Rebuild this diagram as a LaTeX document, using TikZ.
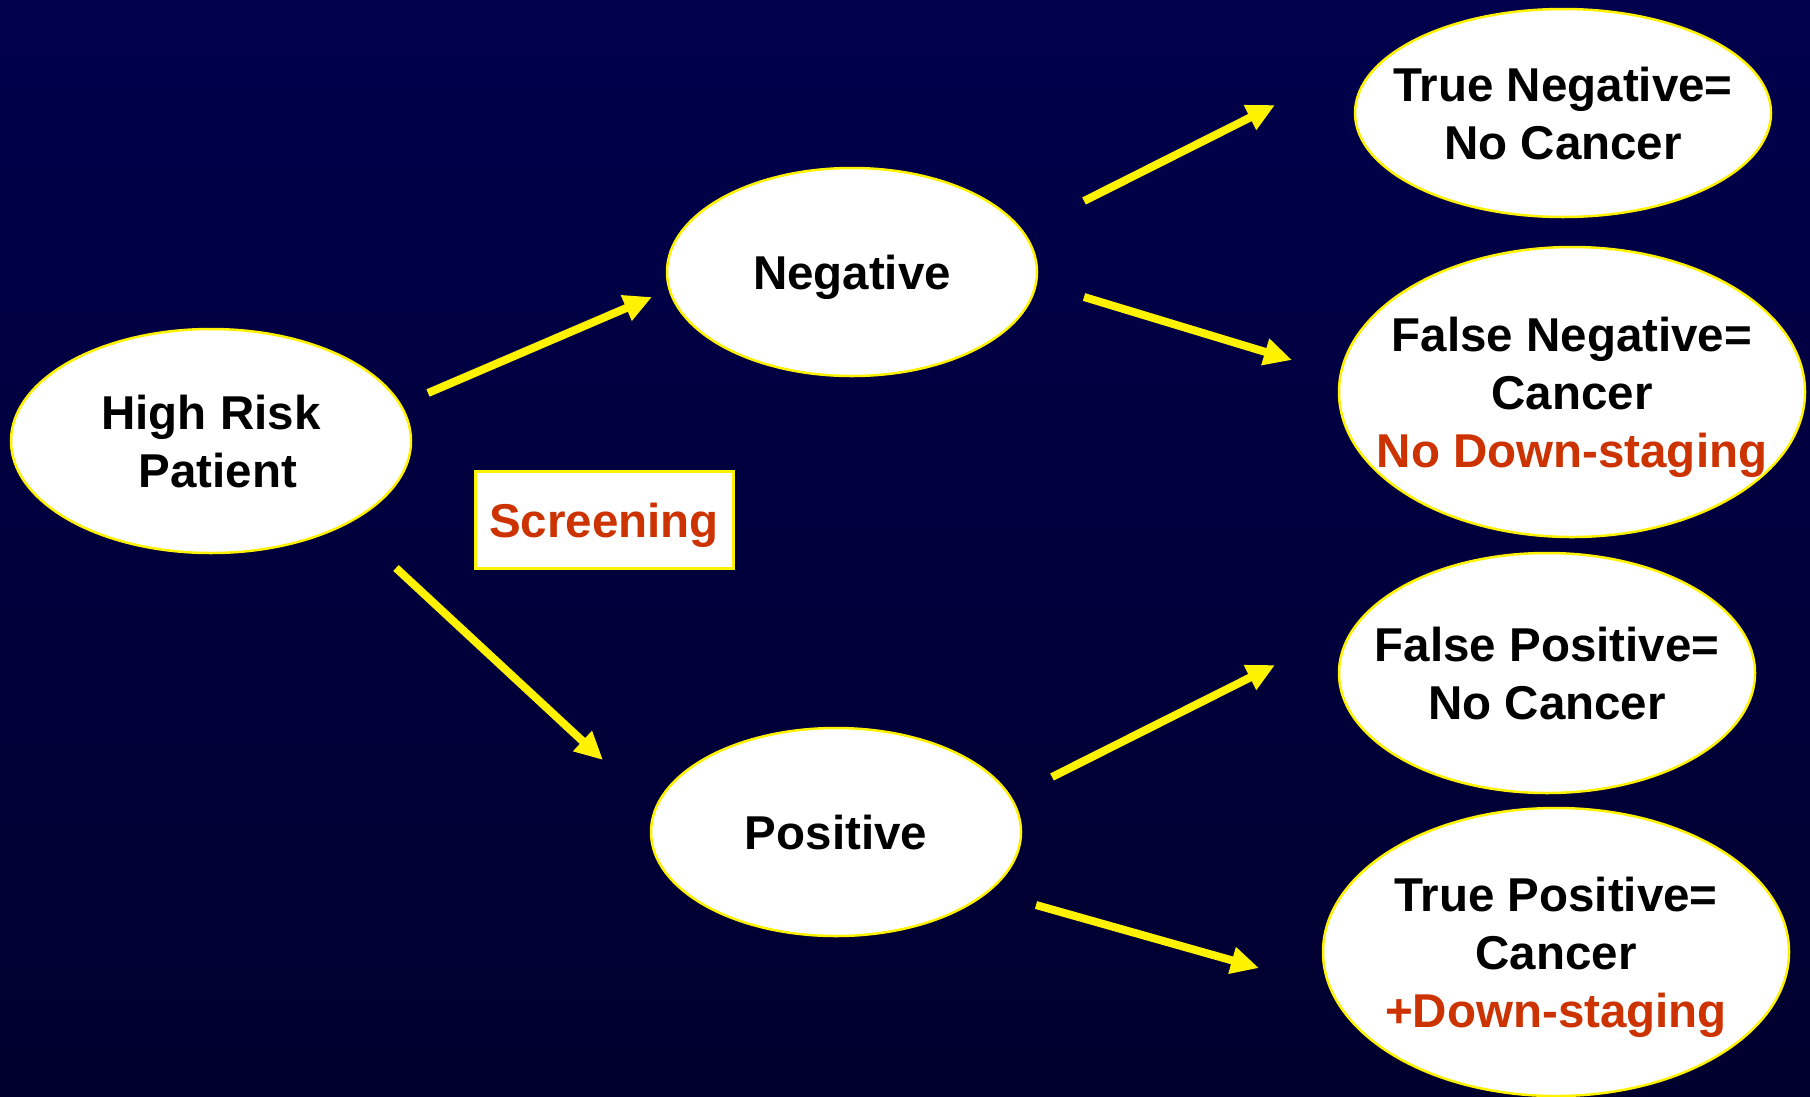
\documentclass[tikz,border=0pt]{standalone}
\usepackage{fontspec}
\setmainfont{Liberation Sans}
\usetikzlibrary{arrows.meta,shapes.geometric}

\definecolor{slidetop}{RGB}{0,0,76}
\definecolor{slidemid}{RGB}{0,0,98}
\definecolor{slidebottom}{RGB}{0,0,46}
\definecolor{alertred}{RGB}{204,51,0}

\begin{document}
\begin{tikzpicture}[x=1pt, y=-1pt,
    oval/.style={ellipse, draw=yellow, line width=2.5pt, fill=white,
        inner xsep=-40pt, inner ysep=0pt, text depth=0pt, align=center,
        font=\bfseries\fontsize{47.5}{58}\selectfont},
    tag/.style={rectangle, draw=yellow, line width=3pt, fill=white, text depth=0pt,
        text=alertred, font=\bfseries\fontsize{47.5}{58}\selectfont},
    arrow/.style={draw=yellow, line width=8pt, -{Triangle[length=28pt,width=26pt]}}]

    \useasboundingbox (0,0) rectangle (1810,1096);
    \fill[top color=slidetop, middle color=slidemid, bottom color=slidebottom]
        (0,0) rectangle (1810,1096);

    \node[oval, minimum width=400, minimum height=224] (patient) at (211,441) {High Risk\\\kern14pt Patient};

    \node[oval, minimum width=370, minimum height=208] (negative) at (852,272) {Negative};
    \node[oval, minimum width=370, minimum height=208] (positive) at (836,832) {Positive};

    \node[oval, minimum width=416, minimum height=208] (trueneg) at (1563,113) {True Negative=\\No Cancer};
    \node[oval, minimum width=466, minimum height=290] (falseneg) at (1572,392)
        {False Negative=\\Cancer\\\textcolor{alertred}{No Down-staging}};
    \node[oval, minimum width=416, minimum height=240] (falsepos) at (1547,673) {False Positive=\\No Cancer};
    \node[oval, minimum width=466, minimum height=288] (truepos) at (1556,952)
        {True Positive=\\Cancer\\\textcolor{alertred}{+Down-staging}};

    \node[tag, minimum width=258, minimum height=97] (screening) at (604,520) {Screening};

    \draw[arrow] ([shift={(217,-48)}]patient.center) -- ([shift={(-200,25)}]negative.center);
    \draw[arrow] ([shift={(185,127)}]patient.center) -- ([shift={(-233,-72)}]positive.center);

    \draw[arrow] ([shift={(232,-71)}]negative.center) -- ([shift={(-288,-8)}]trueneg.center);
    \draw[arrow] ([shift={(232,25)}]negative.center) -- ([shift={(-280,-32)}]falseneg.center);

    \draw[arrow] ([shift={(216,-55)}]positive.center) -- ([shift={(-272,-8)}]falsepos.center);
    \draw[arrow] ([shift={(200,73)}]positive.center) -- ([shift={(-297,16)}]truepos.center);

\end{tikzpicture}
\end{document}
